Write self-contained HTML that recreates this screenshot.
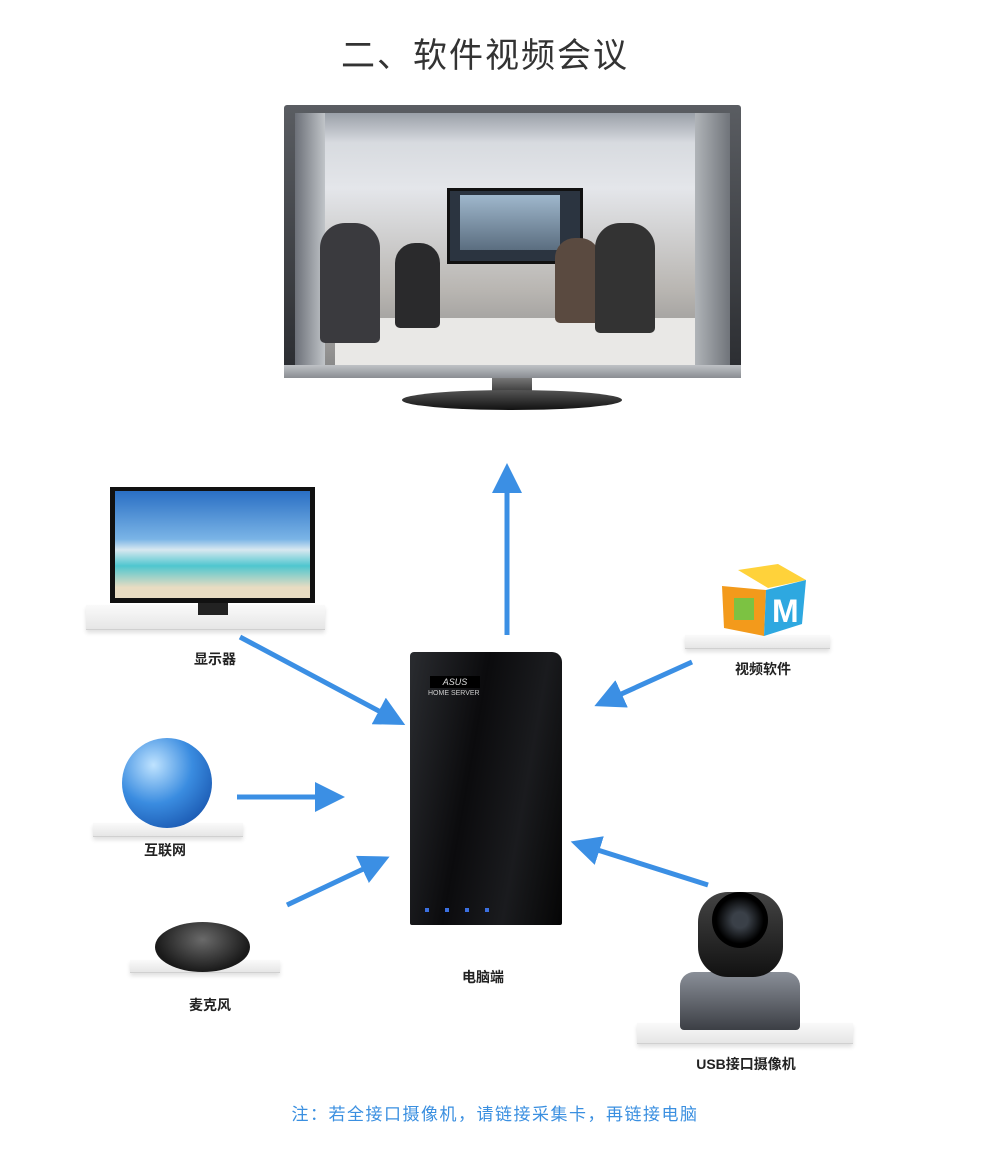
<!DOCTYPE html>
<html><head><meta charset="utf-8">
<style>
html,body{margin:0;padding:0;background:#fff;}
body{width:990px;height:1153px;position:relative;overflow:hidden;font-family:"Liberation Sans","Noto Sans CJK SC",sans-serif;}
.a{position:absolute;}
.lbl{position:absolute;font-size:14px;font-weight:bold;color:#222;transform:translateX(-50%);white-space:nowrap;}
.shelf{position:absolute;background:linear-gradient(#fafafa,#e6e6e6);border-bottom:1px solid #d0d0d0;box-shadow:0 3px 4px rgba(0,0,0,.12);}
</style></head><body>
<div class="a" style="left:-10px;width:990px;top:28px;text-align:center;font-size:34px;color:#333;letter-spacing:2px;">二、软件视频会议</div>

<!-- big TV -->
<div class="a" style="left:284px;top:105px;width:457px;height:273px;background:linear-gradient(#5a5d62,#2a2c30);border-radius:3px;"></div>
<div class="a" style="left:295px;top:113px;width:435px;height:252px;background:linear-gradient(#cfd3d8 0%,#e4e6ea 30%,#b9b6b2 70%,#8a8a8a 100%);overflow:hidden;">
  <div class="a" style="left:0;top:0;width:435px;height:30px;background:linear-gradient(#9aa0a8,#d8dbe0);"></div>
  <div class="a" style="left:0;top:0;width:30px;height:252px;background:linear-gradient(90deg,#6c7078,#c0c4c8);"></div>
  <div class="a" style="left:400px;top:0;width:35px;height:252px;background:linear-gradient(90deg,#b0b4b8,#70747a);"></div>
  <div class="a" style="left:152px;top:75px;width:130px;height:70px;background:#2b3440;border:3px solid #111;"></div>
  <div class="a" style="left:165px;top:82px;width:100px;height:55px;background:linear-gradient(#9fb7cc,#5b6e80);"></div>
  <div class="a" style="left:40px;top:205px;width:360px;height:47px;background:#e9e8e6;"></div>
  <div class="a" style="left:25px;top:110px;width:60px;height:120px;background:#3a3a3e;border-radius:25px 25px 5px 5px;"></div>
  <div class="a" style="left:100px;top:130px;width:45px;height:85px;background:#2a2a2c;border-radius:20px 20px 5px 5px;"></div>
  <div class="a" style="left:260px;top:125px;width:45px;height:85px;background:#5a4a40;border-radius:20px 20px 5px 5px;"></div>
  <div class="a" style="left:300px;top:110px;width:60px;height:110px;background:#333;border-radius:25px 25px 5px 5px;"></div>
</div>
<div class="a" style="left:284px;top:365px;width:457px;height:13px;background:linear-gradient(#bfc2c6,#8a8d92);"></div>
<div class="a" style="left:492px;top:378px;width:40px;height:16px;background:linear-gradient(#777,#333);"></div>
<div class="a" style="left:402px;top:390px;width:220px;height:20px;border-radius:50%;background:linear-gradient(#555,#111);"></div>

<!-- small TV -->
<div class="shelf" style="left:86px;top:605px;width:239px;height:24px;"></div>
<div class="a" style="left:110px;top:487px;width:205px;height:116px;background:#111;"></div>
<div class="a" style="left:115px;top:491px;width:195px;height:107px;background:linear-gradient(#2a6fc4 0%,#7ab4e6 45%,#d8e8f0 55%,#4fc6cf 70%,#e8dcc2 90%);"></div>
<div class="a" style="left:198px;top:603px;width:30px;height:12px;background:#222;"></div>
<div class="lbl" style="left:215px;top:649px;">显示器</div>

<!-- globe -->
<div class="shelf" style="left:93px;top:823px;width:150px;height:13px;"></div>
<div class="a" style="left:122px;top:738px;width:90px;height:90px;border-radius:50%;background:radial-gradient(circle at 35% 30%,#bfe3ff,#3a8ce0 45%,#0b3f9a 100%);"></div>
<div class="lbl" style="left:165px;top:840px;">互联网</div>

<!-- mic -->
<div class="shelf" style="left:130px;top:960px;width:150px;height:12px;"></div>
<div class="a" style="left:155px;top:922px;width:95px;height:50px;border-radius:50%;background:radial-gradient(ellipse at 50% 35%,#6a6a6a,#1a1a1a 70%);"></div>
<div class="lbl" style="left:210px;top:995px;">麦克风</div>

<!-- software -->
<div class="shelf" style="left:685px;top:635px;width:145px;height:13px;"></div>
<svg class="a" style="left:718px;top:562px;" width="90" height="78" viewBox="0 0 90 78">
<polygon points="20,8 60,2 88,18 50,26" fill="#ffd23a"/>
<polygon points="4,24 48,28 46,74 6,66" fill="#f39a1b"/>
<polygon points="48,28 88,18 84,62 46,74" fill="#2ea8e0"/>
<text x="54" y="60" font-family="Liberation Sans" font-size="32" font-weight="bold" fill="#fff">M</text>
<rect x="16" y="36" width="20" height="22" fill="#7cc242"/>
</svg>
<div class="lbl" style="left:763px;top:659px;">视频软件</div>

<!-- server -->
<div class="a" style="left:410px;top:652px;width:152px;height:273px;background:linear-gradient(100deg,#2a2c30 0%,#0b0b0d 40%,#1a1b1e 70%,#050505 100%);border-radius:4px 10px 2px 2px;"></div>
<div class="a" style="left:430px;top:676px;width:50px;height:12px;background:#000;color:#ddd;font-size:9px;text-align:center;line-height:12px;font-style:italic;">ASUS</div>
<div class="a" style="left:428px;top:690px;width:60px;color:#ccc;font-size:7px;">HOME SERVER</div>
<div class="a" style="left:425px;top:908px;width:70px;height:4px;background:repeating-linear-gradient(90deg,#3b6fe0 0 4px,transparent 4px 20px);"></div>
<div class="lbl" style="left:483px;top:967px;">电脑端</div>

<!-- camera -->
<div class="shelf" style="left:637px;top:1023px;width:216px;height:20px;"></div>
<div class="a" style="left:680px;top:972px;width:120px;height:58px;background:linear-gradient(#8a8f98,#3c3f45);border-radius:14px 14px 4px 4px;"></div>
<div class="a" style="left:698px;top:892px;width:85px;height:85px;border-radius:30px;background:linear-gradient(#444,#111);"></div>
<div class="a" style="left:712px;top:892px;width:56px;height:56px;border-radius:50%;background:radial-gradient(circle,#3a4048 20%,#000 60%);"></div>
<div class="lbl" style="left:746px;top:1054px;">USB接口摄像机</div>

<!-- arrows -->
<svg class="a" style="left:0;top:0;" width="990" height="1153">
<defs><marker id="h" markerWidth="6" markerHeight="6" refX="3" refY="3" orient="auto" markerUnits="strokeWidth"><path d="M0,0 L6,3 L0,6 z" fill="#3b8fe4"/></marker></defs>
<g stroke="#3b8fe4" stroke-width="5" fill="none" marker-end="url(#h)">
<line x1="507" y1="635" x2="507" y2="478"/>
<line x1="240" y1="637" x2="392" y2="718"/>
<line x1="237" y1="797" x2="330" y2="797"/>
<line x1="287" y1="905" x2="376" y2="863"/>
<line x1="692" y1="662" x2="608" y2="700"/>
<line x1="708" y1="885" x2="585" y2="846"/>
</g></svg>

<div class="a" style="left:0;width:990px;top:1100px;text-align:center;font-size:17px;letter-spacing:1.5px;color:#3a8fe0;">注：若全接口摄像机，请链接采集卡，再链接电脑</div>
</body></html>
